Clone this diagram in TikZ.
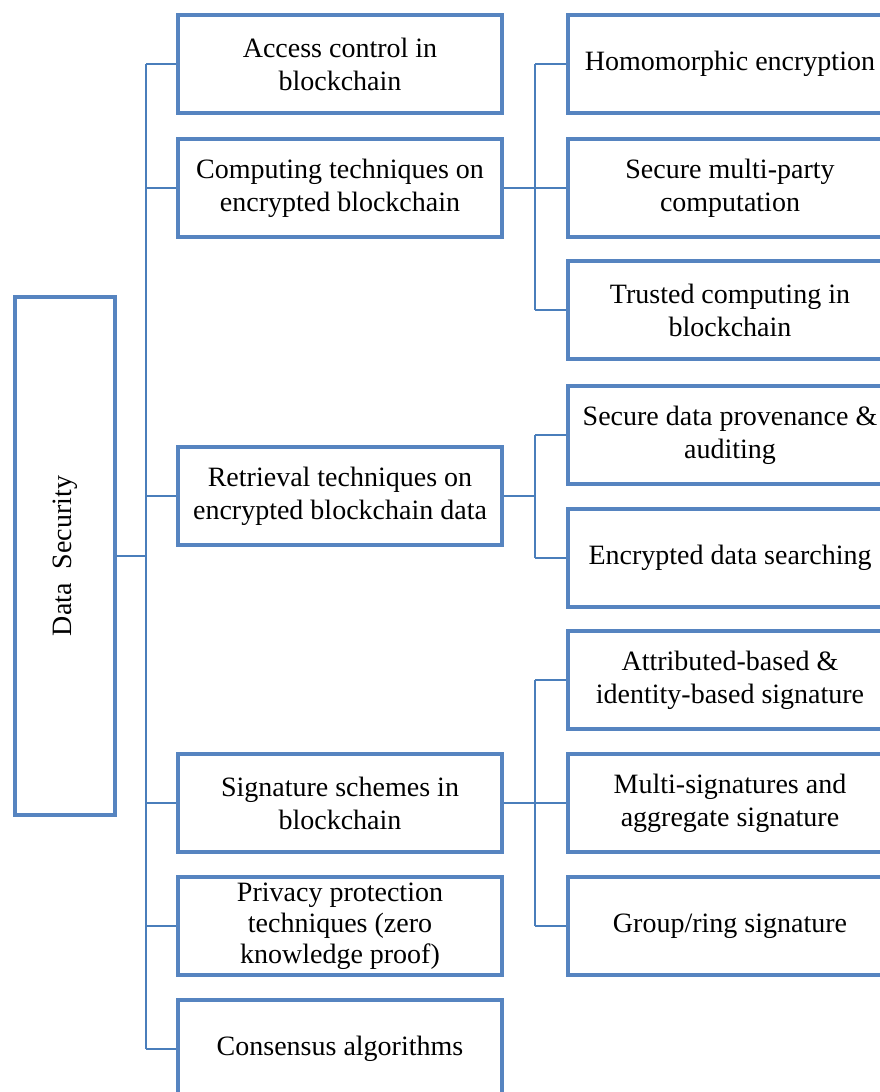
\documentclass[tikz,border=0pt]{standalone}
\usepackage{fontspec}
\setmainfont{Liberation Serif}
\definecolor{boxblue}{RGB}{86,132,192}
\definecolor{linkblue}{RGB}{74,126,187}
\begin{document}
\begin{tikzpicture}[x=1pt,y=-1pt,
  box/.style={draw=boxblue, line width=3.6pt, minimum width=324pt, minimum height=98pt,
    inner sep=0pt, align=center, text=black, font=\fontsize{28}{33}\selectfont},
  link/.style={draw=linkblue, line width=2pt}]
\useasboundingbox (0,0) rectangle (880,1092);

% root
\node[box, minimum width=100pt, minimum height=518pt] (root) at (65,556)
  {\rotatebox{90}{Data\hspace{0.5em}Security}};

% second level
\node[box] (access) at (340,64)   {Access control in\\blockchain};
\node[box] (comp)   at (340,188)  {Computing techniques on\\encrypted blockchain};
\node[box] (retr)   at (340,496)  {Retrieval techniques on\\encrypted blockchain data};
\node[box] (sig)    at (340,803)  {Signature schemes in\\blockchain};
\node[box, font=\fontsize{28}{31}\selectfont] (priv) at (340,926)
  {Privacy protection\\techniques (zero\\knowledge proof)};
\node[box] (cons)   at (340,1049) {Consensus algorithms};

% third level
\node[box] (homo)   at (730,64)  {Homomorphic encryption};
\node[box] (smpc)   at (730,188) {Secure multi-party\\computation};
\node[box] (trust)  at (730,310) {Trusted computing in\\blockchain};
\node[box] (prov)   at (730,435) {Secure data provenance \&\\auditing};
\node[box] (search) at (730,558) {Encrypted data searching};
\node[box] (attr)   at (730,680) {Attributed-based \&\\identity-based signature};
\node[box] (multi)  at (730,803) {Multi-signatures and\\aggregate signature};
\node[box] (group)  at (730,926) {Group/ring signature};

% bus lines
\coordinate (trunk) at (146,0);
\coordinate (sub) at (535,0);

\draw[link] (root.east) -- (root.east -| trunk);
\draw[link] (access.west -| trunk) -- (cons.west -| trunk);
\foreach \n in {access,comp,retr,sig,priv,cons}
  \draw[link] (\n.west -| trunk) -- (\n.west);

\draw[link] (comp.east) -- (comp.east -| sub);
\draw[link] (homo.west -| sub) -- (trust.west -| sub);
\foreach \n in {homo,smpc,trust}
  \draw[link] (\n.west -| sub) -- (\n.west);

\draw[link] (retr.east) -- (retr.east -| sub);
\draw[link] (prov.west -| sub) -- (search.west -| sub);
\foreach \n in {prov,search}
  \draw[link] (\n.west -| sub) -- (\n.west);

\draw[link] (sig.east) -- (sig.east -| sub);
\draw[link] (attr.west -| sub) -- (group.west -| sub);
\foreach \n in {attr,multi,group}
  \draw[link] (\n.west -| sub) -- (\n.west);
\end{tikzpicture}
\end{document}
